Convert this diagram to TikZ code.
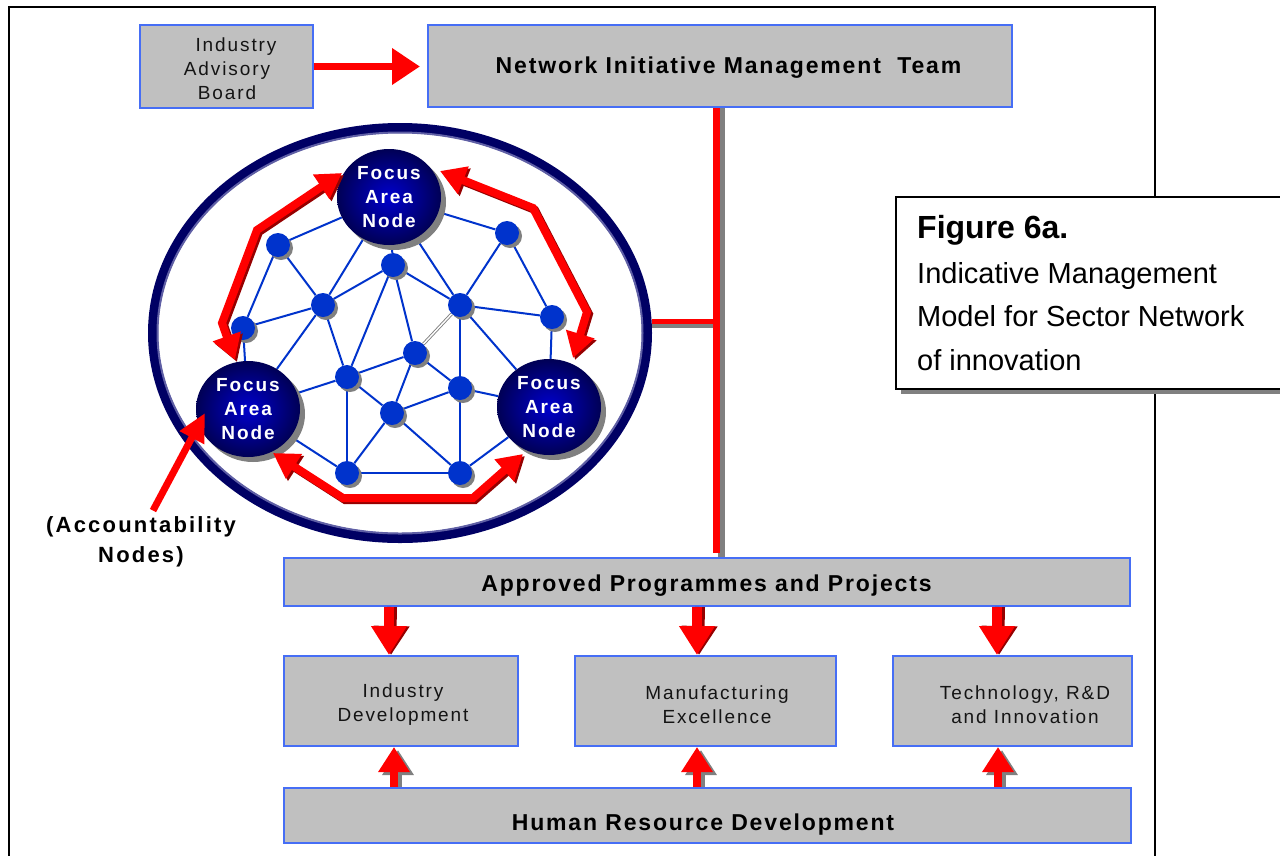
\documentclass[tikz,border=0pt]{standalone}
\usepackage{fontspec}
\setmainfont{Liberation Sans}
\newfontfamily\trk[LetterSpace=10]{Liberation Sans}
\newfontfamily\trkb[LetterSpace=8]{Liberation Sans}
\usetikzlibrary{arrows.meta,shapes.geometric,shadows,calc,backgrounds}
\definecolor{boxgray}{RGB}{192,192,192}
\definecolor{boxblue}{RGB}{70,110,245}
\definecolor{darkred}{RGB}{150,0,0}
\definecolor{navy}{RGB}{0,0,100}
\definecolor{nodeblue}{RGB}{0,51,204}
\definecolor{shadowgray}{RGB}{128,128,128}
\definecolor{ringlight}{RGB}{95,95,165}
\definecolor{focusin}{RGB}{0,0,205}
\definecolor{focusout}{RGB}{0,0,85}
\begin{document}
\begin{tikzpicture}[x=1pt,y=-1pt,
  box/.style={draw=boxblue, line width=2pt, fill=boxgray, inner sep=0pt},
  boxtext/.style={font=\trk\fontsize{19}{24}\selectfont, align=center, inner sep=0pt, text={rgb,255:red,20;green,20;blue,20}},
  titletext/.style={font=\trkb\bfseries\fontsize{23}{27}\selectfont, inner sep=0pt},
  focus/.style={ellipse, minimum width=104pt, minimum height=96pt, inner sep=0pt,
    inner color=focusin, outer color=focusout, text=white, align=center,
    font=\trk\bfseries\fontsize{19}{24}\selectfont},
  dot/.style={circle, minimum size=24pt, inner sep=0pt, fill=nodeblue,
    drop shadow={shadow xshift=3pt, shadow yshift=-3pt, fill=shadowgray, opacity=1}},
  netedge/.style={draw=nodeblue, line width=2pt},
  fat/.style={line width=8pt, line join=miter,
    {Triangle[length=25pt,width=28pt]}-{Triangle[length=25pt,width=28pt]}},
  downarr/.style={line width=10pt, -{Triangle[length=29pt,width=34pt]}},
  uparr/.style={line width=8pt, -{Triangle[length=25pt,width=30pt]}},
]
\useasboundingbox (0,0) rectangle (1280,855);
\begin{pgfonlayer}{background}
  \fill[white] (0,0) rectangle (1280,855);
\end{pgfonlayer}

% outer frame
\draw[black, line width=2pt] (9,880) -- (9,7) -- (1155,7) -- (1155,880);

% top boxes
\node[box, minimum width=173pt, minimum height=83pt] (iab) at (226.5,66.5) {};
\node[boxtext] (iabt) at (227,69) {\hspace{18pt}Industry\\Advisory\hspace{16pt}\\Board\hspace{8pt}};
\node[box, minimum width=584pt, minimum height=82pt] (nimt) at (720,66) {};
\node[titletext] (nimtt) at (728.5,68) {Network Initiative Management \ Team};

% programme boxes
\node[box, minimum width=846pt, minimum height=48pt] (appr) at (707,582) {};
\node[titletext] (apprt) at (706.5,586) {Approved Programmes and Projects};
\node[box, minimum width=234pt, minimum height=90pt] (indev) at (401,701) {};
\node[boxtext] (indevt) at (403,705) {Industry\\Development};
\node[box, minimum width=261pt, minimum height=90pt] (manu) at (705.5,701) {};
\node[boxtext] (manut) at (717,705) {Manufacturing\\Excellence};
\node[box, minimum width=239pt, minimum height=90pt] (tech) at (1012.5,701) {};
\node[boxtext] (techt) at (1025,705) {Technology, R\&D\\and Innovation};
\node[box, minimum width=847pt, minimum height=55pt] (hrd) at (707.5,815.5) {};
\node[titletext] (hrdt) at (703,825) {Human Resource Development};

% ring
\node[ellipse, draw=navy, line width=10pt, minimum width=494pt, minimum height=410pt, inner sep=0pt] (net) at (400,333) {};
\draw[ringlight, line width=2pt] (400,333) ellipse [x radius=242.5pt, y radius=200.5pt];

% bus
\coordinate (busT) at (716.5,108);
\coordinate (busB) at (716.5,553);
\coordinate (busJ) at (716.5,321.5);
\begin{pgfonlayer}{background}
  \draw[shadowgray, line width=7pt] ($(busT)+(5,0)$) -- ($(busB)+(5,4)$);
  \draw[shadowgray, line width=5pt] ($(net.east |- busJ)+(0,4)$) -- ($(busJ)+(0,4)$);
  \draw[red, line width=5pt] (net.east |- busJ) -- (busJ);
  \draw[red, line width=7pt] (busT) -- (busB);
\end{pgfonlayer}

% IAB -> NIMT
\draw[red, line width=7pt, -{Triangle[length=28pt,width=35pt]}] (iab.east) -- ($(iab.east -| nimt.west)+(-7,0)$);

% down arrows
\coordinate (ax1) at (389,0);
\coordinate (ax2) at (697,0);
\coordinate (ax3) at (997,0);
\foreach \a/\b in {ax1/indev, ax2/manu, ax3/tech}{
  \draw[darkred, downarr] ($(appr.south -| \a)+(3,0)$) -- ($(\b.north -| \a)+(2,0)$);
  \draw[red, downarr] (appr.south -| \a) -- (\b.north -| \a);
}
% up arrows
\coordinate (ux1) at (394,0);
\coordinate (ux2) at (697,0);
\coordinate (ux3) at (998,0);
\foreach \a/\b in {ux1/indev, ux2/manu, ux3/tech}{
  \draw[shadowgray, uparr] ($(hrd.north -| \a)+(4,0)$) -- ($(\b.south -| \a)+(4,3)$);
  \draw[red, uparr] (hrd.north -| \a) -- (\b.south -| \a);
}

% focus nodes
\coordinate (cT) at (389,197);
\coordinate (cL) at (248,409);
\coordinate (cR) at (549,407);
\foreach \c in {cT,cL,cR}{
  \fill[shadowgray] ($(\c)+(5,5)$) ellipse [x radius=52pt, y radius=48pt];
}
\node[focus] (fT) at (cT) {Focus\\Area\\Node};
\node[focus] (fL) at (cL) {Focus\\Area\\Node};
\node[focus] (fR) at (cR) {Focus\\Area\\Node};

% small nodes
\node[dot] (n1) at (278,245) {};
\node[dot] (n2) at (507,233) {};
\node[dot] (n3) at (393,265) {};
\node[dot] (n4) at (323,305) {};
\node[dot] (n5) at (460,305) {};
\node[dot] (n6) at (243,328) {};
\node[dot] (n7) at (552,317) {};
\node[dot] (n8) at (415,353) {};
\node[dot] (n9) at (347,377) {};
\node[dot] (n10) at (460,388) {};
\node[dot] (n11) at (392,413) {};
\node[dot] (n12) at (347,473) {};
\node[dot] (n13) at (460,473) {};

\begin{pgfonlayer}{background}
\foreach \p/\q in {fT/n1, fT/n4, fT/n5, fT/n2, fT/n3,
  n1/n4, n1/n6, n4/n6, n4/n3, n3/n5, n3/n9, n3/n8,
  n2/n5, n2/n7, n5/n7, n5/n10, n5/fR, n7/fR,
  n6/fL, n4/fL, n4/n9, n9/fL, n9/n8, n9/n11, n9/n12,
  n8/n11, n8/n10, n10/n11, n10/fR, n10/n13,
  n11/n12, n11/n13, n12/fL, n12/n13, n13/fR}{
  \draw[netedge] (\p) -- (\q);
}
\draw[draw=gray, double=white, double distance=1.4pt, line width=0.9pt] (n5) -- (n8);
\end{pgfonlayer}

% red circulation arrows
\coordinate (a1) at (342,173);
\coordinate (a2) at (257,230);
\coordinate (a3) at (222,323);
\coordinate (a4) at (235,360);
\coordinate (b1) at (440,171);
\coordinate (b2) at (533,208);
\coordinate (b3) at (587,312);
\coordinate (b4) at (573,358);
\coordinate (c1) at (273,453);
\coordinate (c2) at (343,498);
\coordinate (c3) at (473,498);
\coordinate (c4) at (523,454);
\draw[darkred, fat] ($(a1)+(2,2)$) -- ($(a2)+(2,2)$) -- ($(a3)+(2,2)$) -- ($(a4)+(2,2)$);
\draw[darkred, fat] ($(b1)+(2,2)$) -- ($(b2)+(2,2)$) -- ($(b3)+(2,2)$) -- ($(b4)+(2,2)$);
\draw[darkred, fat] ($(c1)+(2,2)$) -- ($(c2)+(2,2)$) -- ($(c3)+(2,2)$) -- ($(c4)+(2,2)$);
\draw[red, fat] (a1) -- (a2) -- (a3) -- (a4);
\draw[red, fat] (b1) -- (b2) -- (b3) -- (b4);
\draw[red, fat] (c1) -- (c2) -- (c3) -- (c4);

% accountability
\node[font=\trk\bfseries\fontsize{22}{30}\selectfont, align=center, inner sep=0pt] (acct) at (141,542) {(Accountability\\Nodes)};
\coordinate (acctTip) at (205,413);
\draw[red, line width=7pt, -{Triangle[length=28pt,width=26pt]}] ([xshift=12pt,yshift=6pt]acct.north) -- (acctTip);

% figure caption box
\node[draw=black, line width=1.5pt, fill=white, minimum width=394pt, minimum height=192pt, inner sep=0pt,
  drop shadow={shadow xshift=5pt, shadow yshift=-5pt, fill=shadowgray, opacity=1}] (figbox) at (1093,293) {};
\node[anchor=base west, inner sep=0pt, font=\bfseries\fontsize{32}{38}\selectfont] (fig1) at (917,238) {Figure 6a.};
\node[anchor=base west, inner sep=0pt, font=\fontsize{29}{35}\selectfont] (fig2) at (917,283) {Indicative Management};
\node[anchor=base west, inner sep=0pt, font=\fontsize{29}{35}\selectfont] (fig3) at (917,326) {Model for Sector Network};
\node[anchor=base west, inner sep=0pt, font=\fontsize{29}{35}\selectfont] (fig4) at (917,370) {of innovation};
\end{tikzpicture}
\end{document}
